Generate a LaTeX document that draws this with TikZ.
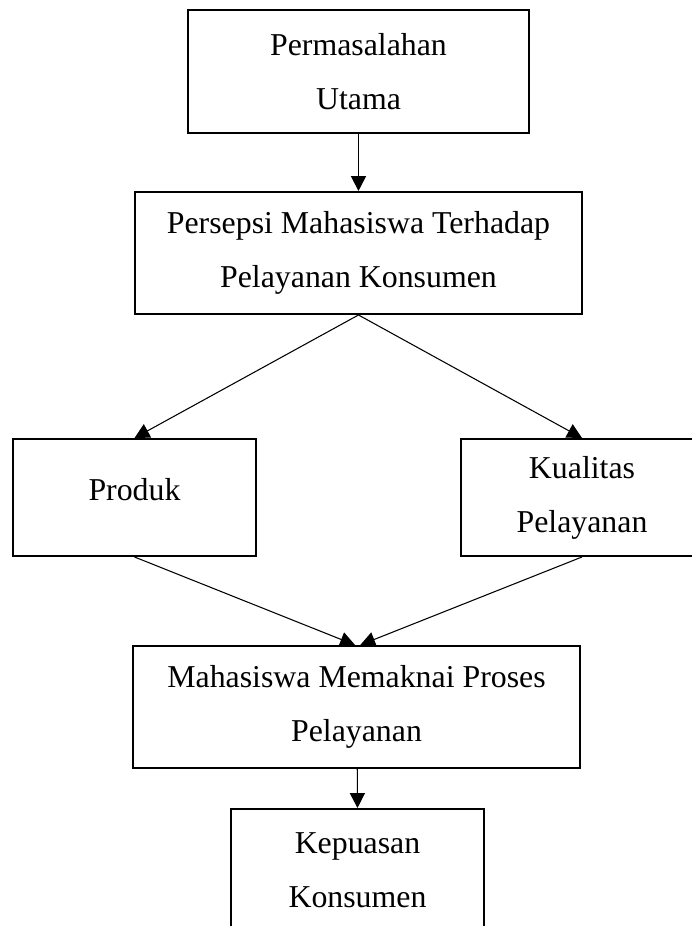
\documentclass[tikz,border=0pt]{standalone}
\usepackage{fontspec}
\setmainfont{Liberation Serif}
\usepackage{tikz}
\usetikzlibrary{arrows.meta}

\begin{document}
\begin{tikzpicture}[
    box/.style={draw, line width=0.75pt, fill=white,
                align=center, inner sep=0pt,
                font=\fontsize{12}{20.4}\selectfont},
    arr/.style={-{Triangle[length=5.6pt, width=5.7pt]}, line width=0.4pt},
  ]
    \useasboundingbox (0,0) rectangle (9.169,-12.270);
    \clip (0,0) rectangle (9.169,-12.270);

    \node[box, minimum width=4.518cm, minimum height=1.630cm] (masalah) at (4.750,-0.947)
      {Permasalahan\\Utama};
    \node[box, minimum width=5.923cm, minimum height=1.617cm] (persepsi) at (4.750,-3.352)
      {Persepsi Mahasiswa Terhadap\\Pelayanan Konsumen};

    % two factors
    \node[box, minimum width=3.220cm, minimum height=1.550cm, text depth=6.3pt] (produk) at (1.782,-6.592)
      {Produk};
    \node[box, minimum width=3.207cm, minimum height=1.550cm] (kualitas) at (7.712,-6.592)
      {Kualitas\\Pelayanan};

    \node[box, minimum width=5.923cm, minimum height=1.617cm] (makna) at (4.724,-9.368)
      {Mahasiswa Memaknai Proses\\Pelayanan};
    \node[box, minimum width=3.352cm, minimum height=1.630cm] (puas) at (4.737,-11.534)
      {Kepuasan\\Konsumen};

    \draw[arr] (masalah.south) -- (persepsi.north);
    \draw[arr] (persepsi.south) -- (produk.north);
    \draw[arr] (persepsi.south) -- (kualitas.north);
    \draw[arr] (produk.south) -- ([xshift=-0.02cm]makna.north);
    \draw[arr] (kualitas.south) -- ([xshift=0.05cm]makna.north);
    \draw[arr] ([xshift=0.01cm]makna.south) -- (puas.north);
  \end{tikzpicture}
\end{document}
